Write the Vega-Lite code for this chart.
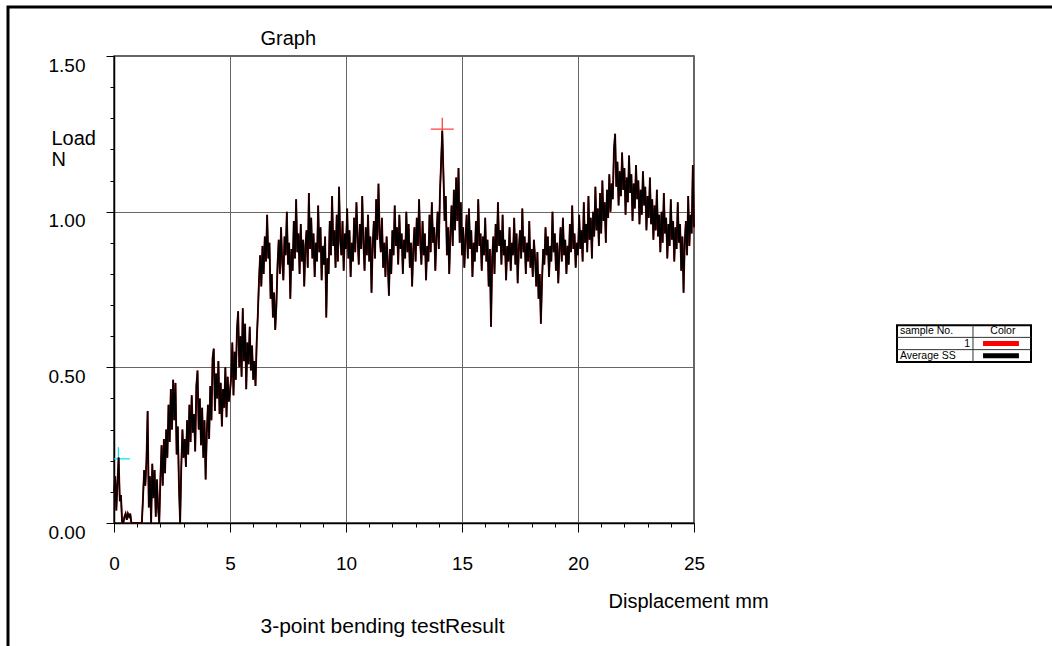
{
"$schema": "https://vega.github.io/schema/vega-lite/v6.json",
"width": 580,
"height": 467,
"autosize": {"type": "none"},
"padding": {"left": 114, "top": 56, "right": 358, "bottom": 123},
"background": "white",
"config": {"font": "Liberation Sans", "view": {"stroke": "#333", "strokeWidth": 1.5}},
"layer": [
{
"data": {"values": [
{"mm":0,"N":0.10},{"mm":0.05,"N":0.15},{"mm":0.1,"N":0.04},{"mm":0.15,"N":0.13},{"mm":0.2,"N":0.21},{"mm":0.25,"N":0.07},{"mm":0.3,"N":0.09},{"mm":0.35,"N":0},{"mm":0.4,"N":0},{"mm":0.45,"N":0.02},{"mm":0.5,"N":0.03},{"mm":0.55,"N":0.01},{"mm":0.6,"N":0.03},{"mm":0.65,"N":0.02},{"mm":0.7,"N":0.03},{"mm":0.75,"N":0},{"mm":0.8,"N":0},{"mm":0.85,"N":0},{"mm":0.9,"N":0},{"mm":0.95,"N":0},{"mm":1,"N":0},{"mm":1.05,"N":0},{"mm":1.1,"N":0},{"mm":1.15,"N":0},{"mm":1.2,"N":0},
{"mm":1.25,"N":0.08},{"mm":1.3,"N":0.17},{"mm":1.35,"N":0.12},{"mm":1.4,"N":0.20},{"mm":1.45,"N":0.36},{"mm":1.5,"N":0.05},{"mm":1.55,"N":0.15},{"mm":1.6,"N":0},{"mm":1.65,"N":0.19},{"mm":1.7,"N":0.08},{"mm":1.75,"N":0.17},{"mm":1.8,"N":0.02},{"mm":1.85,"N":0.14},{"mm":1.9,"N":0.05},{"mm":1.95,"N":0},{"mm":2,"N":0.14},{"mm":2.05,"N":0.25},{"mm":2.1,"N":0.12},{"mm":2.15,"N":0.27},{"mm":2.2,"N":0.16},{"mm":2.25,"N":0.30},{"mm":2.3,"N":0.21},{"mm":2.35,"N":0.38},{"mm":2.4,"N":0.26},{"mm":2.45,"N":0.43},{"mm":2.5,"N":0.30},{"mm":2.55,"N":0.46},{"mm":2.6,"N":0.33},{"mm":2.65,"N":0.45},{"mm":2.7,"N":0.22},{"mm":2.75,"N":0.31},{"mm":2.8,"N":0.12},{"mm":2.85,"N":0},{"mm":2.9,"N":0.18},{"mm":2.95,"N":0.30},{"mm":3,"N":0.21},
{"mm":3.05,"N":0.27},{"mm":3.1,"N":0.18},{"mm":3.15,"N":0.33},{"mm":3.2,"N":0.22},{"mm":3.25,"N":0.38},{"mm":3.3,"N":0.26},{"mm":3.35,"N":0.41},{"mm":3.4,"N":0.29},{"mm":3.45,"N":0.35},{"mm":3.5,"N":0.23},{"mm":3.55,"N":0.44},{"mm":3.6,"N":0.49},{"mm":3.65,"N":0.30},{"mm":3.7,"N":0.40},{"mm":3.75,"N":0.25},{"mm":3.8,"N":0.37},{"mm":3.85,"N":0.21},{"mm":3.9,"N":0.33},{"mm":3.95,"N":0.14},{"mm":4,"N":0.29},{"mm":4.05,"N":0.38},{"mm":4.1,"N":0.27},{"mm":4.15,"N":0.44},{"mm":4.2,"N":0.33},{"mm":4.25,"N":0.53},{"mm":4.3,"N":0.56},{"mm":4.35,"N":0.36},{"mm":4.4,"N":0.48},{"mm":4.45,"N":0.40},{"mm":4.5,"N":0.52},{"mm":4.55,"N":0.35},{"mm":4.6,"N":0.45},{"mm":4.65,"N":0.31},{"mm":4.7,"N":0.43},{"mm":4.75,"N":0.37},{"mm":4.8,"N":0.50},{"mm":4.85,"N":0.34},{"mm":4.9,"N":0.47},{"mm":4.95,"N":0.39},{"mm":5,"N":0.42},
{"mm":5.05,"N":0.47},{"mm":5.1,"N":0.58},{"mm":5.15,"N":0.41},{"mm":5.2,"N":0.55},{"mm":5.25,"N":0.46},{"mm":5.3,"N":0.62},{"mm":5.35,"N":0.68},{"mm":5.4,"N":0.50},{"mm":5.45,"N":0.60},{"mm":5.5,"N":0.47},{"mm":5.55,"N":0.69},{"mm":5.6,"N":0.52},{"mm":5.65,"N":0.64},{"mm":5.7,"N":0.43},{"mm":5.75,"N":0.58},{"mm":5.8,"N":0.51},{"mm":5.85,"N":0.63},{"mm":5.9,"N":0.49},{"mm":5.95,"N":0.57},{"mm":6,"N":0.46},{"mm":6.05,"N":0.52},{"mm":6.1,"N":0.44},{"mm":6.15,"N":0.58},{"mm":6.2,"N":0.67},{"mm":6.25,"N":0.78},{"mm":6.3,"N":0.86},{"mm":6.35,"N":0.76},{"mm":6.4,"N":0.89},{"mm":6.45,"N":0.80},{"mm":6.5,"N":0.92},{"mm":6.55,"N":0.84},{"mm":6.6,"N":0.99},{"mm":6.65,"N":0.85},{"mm":6.7,"N":0.90},{"mm":6.75,"N":0.72},{"mm":6.8,"N":0.80},{"mm":6.85,"N":0.66},{"mm":6.9,"N":0.74},{"mm":6.95,"N":0.62},{"mm":7,"N":0.70},{"mm":7.05,"N":0.83},
{"mm":7.1,"N":0.91},{"mm":7.15,"N":0.80},{"mm":7.2,"N":0.95},{"mm":7.25,"N":0.84},{"mm":7.3,"N":0.78},{"mm":7.35,"N":0.92},{"mm":7.4,"N":0.86},{"mm":7.45,"N":1.00},{"mm":7.5,"N":0.83},{"mm":7.55,"N":0.90},{"mm":7.6,"N":0.72},{"mm":7.65,"N":0.88},{"mm":7.7,"N":0.81},{"mm":7.75,"N":0.97},{"mm":7.8,"N":0.85},{"mm":7.85,"N":1.04},{"mm":7.9,"N":0.87},{"mm":7.95,"N":0.93},{"mm":8,"N":0.80},{"mm":8.05,"N":0.96},{"mm":8.1,"N":0.84},{"mm":8.15,"N":0.91},{"mm":8.2,"N":0.76},{"mm":8.25,"N":0.89},{"mm":8.3,"N":0.94},{"mm":8.35,"N":0.82},{"mm":8.4,"N":1.06},{"mm":8.45,"N":0.88},{"mm":8.5,"N":0.98},{"mm":8.55,"N":0.85},{"mm":8.6,"N":0.93},{"mm":8.65,"N":0.79},{"mm":8.7,"N":0.90},{"mm":8.75,"N":0.84},{"mm":8.8,"N":1.02},{"mm":8.85,"N":0.87},{"mm":8.9,"N":0.95},{"mm":8.95,"N":0.78},{"mm":9,"N":0.89},{"mm":9.05,"N":0.83},{"mm":9.1,"N":0.92},{"mm":9.15,"N":0.66},{"mm":9.2,"N":0.85},{"mm":9.25,"N":0.80},{"mm":9.3,"N":0.97},{"mm":9.35,"N":0.86},{"mm":9.4,"N":1.05},{"mm":9.45,"N":0.89},{"mm":9.5,"N":0.94},{"mm":9.55,"N":0.82},{"mm":9.6,"N":0.99},{"mm":9.65,"N":0.84},{"mm":9.7,"N":1.08},{"mm":9.75,"N":0.91},{"mm":9.8,"N":0.86},{"mm":9.85,"N":0.97},{"mm":9.9,"N":0.81},{"mm":9.95,"N":0.93},
{"mm":10,"N":0.88},{"mm":10.05,"N":1.01},{"mm":10.1,"N":0.85},{"mm":10.15,"N":0.94},{"mm":10.2,"N":0.79},{"mm":10.25,"N":0.90},{"mm":10.3,"N":0.84},{"mm":10.35,"N":0.98},{"mm":10.4,"N":0.87},{"mm":10.45,"N":1.03},{"mm":10.5,"N":0.92},{"mm":10.55,"N":0.83},{"mm":10.6,"N":0.96},{"mm":10.65,"N":0.88},{"mm":10.7,"N":1.05},{"mm":10.75,"N":0.90},{"mm":10.8,"N":0.81},{"mm":10.85,"N":0.95},{"mm":10.9,"N":0.86},{"mm":10.95,"N":0.99},{"mm":11,"N":0.84},{"mm":11.05,"N":0.92},{"mm":11.1,"N":0.74},{"mm":11.15,"N":0.89},{"mm":11.2,"N":0.97},{"mm":11.25,"N":0.85},{"mm":11.3,"N":1.04},{"mm":11.35,"N":0.91},{"mm":11.4,"N":1.09},{"mm":11.45,"N":0.93},{"mm":11.5,"N":0.87},{"mm":11.55,"N":0.98},{"mm":11.6,"N":0.82},{"mm":11.65,"N":0.90},{"mm":11.7,"N":0.79},{"mm":11.75,"N":0.92},{"mm":11.8,"N":0.84},{"mm":11.85,"N":0.73},{"mm":11.9,"N":0.88},{"mm":11.95,"N":0.80},
{"mm":12,"N":0.94},{"mm":12.05,"N":0.86},{"mm":12.1,"N":1.02},{"mm":12.15,"N":0.89},{"mm":12.2,"N":0.95},{"mm":12.25,"N":0.83},{"mm":12.3,"N":0.99},{"mm":12.35,"N":0.88},{"mm":12.4,"N":0.93},{"mm":12.45,"N":0.80},{"mm":12.5,"N":0.91},{"mm":12.55,"N":0.85},{"mm":12.6,"N":1.00},{"mm":12.65,"N":0.87},{"mm":12.7,"N":0.96},{"mm":12.75,"N":0.82},{"mm":12.8,"N":0.90},{"mm":12.85,"N":0.76},{"mm":12.9,"N":0.88},{"mm":12.95,"N":0.95},{"mm":13,"N":0.84},{"mm":13.05,"N":0.98},{"mm":13.1,"N":0.89},{"mm":13.15,"N":1.04},{"mm":13.2,"N":0.90},{"mm":13.25,"N":0.83},{"mm":13.3,"N":0.97},{"mm":13.35,"N":0.86},{"mm":13.4,"N":0.93},{"mm":13.45,"N":0.78},{"mm":13.5,"N":0.89},{"mm":13.55,"N":0.84},{"mm":13.6,"N":0.99},{"mm":13.65,"N":0.87},{"mm":13.7,"N":1.03},{"mm":13.75,"N":0.90},{"mm":13.8,"N":0.95},{"mm":13.85,"N":0.81},{"mm":13.9,"N":0.92},{"mm":13.95,"N":1.00},
{"mm":14,"N":0.88},{"mm":14.05,"N":1.06},{"mm":14.1,"N":1.16},{"mm":14.15,"N":1.26},{"mm":14.2,"N":1.12},{"mm":14.25,"N":0.97},{"mm":14.3,"N":1.05},{"mm":14.35,"N":0.86},{"mm":14.4,"N":0.95},{"mm":14.45,"N":0.80},{"mm":14.5,"N":0.93},{"mm":14.55,"N":1.02},{"mm":14.6,"N":0.89},{"mm":14.65,"N":1.07},{"mm":14.7,"N":0.94},{"mm":14.75,"N":1.11},{"mm":14.8,"N":0.97},{"mm":14.85,"N":1.14},{"mm":14.9,"N":0.90},{"mm":14.95,"N":1.03},
{"mm":15,"N":0.86},{"mm":15.05,"N":0.95},{"mm":15.1,"N":0.82},{"mm":15.15,"N":0.91},{"mm":15.2,"N":0.99},{"mm":15.25,"N":0.85},{"mm":15.3,"N":1.01},{"mm":15.35,"N":0.88},{"mm":15.4,"N":0.94},{"mm":15.45,"N":0.79},{"mm":15.5,"N":0.90},{"mm":15.55,"N":0.84},{"mm":15.6,"N":0.97},{"mm":15.65,"N":0.87},{"mm":15.7,"N":1.04},{"mm":15.75,"N":0.89},{"mm":15.8,"N":0.93},{"mm":15.85,"N":0.81},{"mm":15.9,"N":0.92},{"mm":15.95,"N":0.86},
{"mm":16,"N":0.98},{"mm":16.05,"N":0.84},{"mm":16.1,"N":0.91},{"mm":16.15,"N":0.76},{"mm":16.2,"N":0.88},{"mm":16.25,"N":0.63},{"mm":16.3,"N":0.85},{"mm":16.35,"N":0.92},{"mm":16.4,"N":0.80},{"mm":16.45,"N":0.96},{"mm":16.5,"N":0.87},{"mm":16.55,"N":1.03},{"mm":16.6,"N":0.89},{"mm":16.65,"N":0.94},{"mm":16.7,"N":0.83},{"mm":16.75,"N":0.99},{"mm":16.8,"N":0.86},{"mm":16.85,"N":0.91},{"mm":16.9,"N":0.78},{"mm":16.95,"N":0.89},
{"mm":17,"N":0.84},{"mm":17.05,"N":0.95},{"mm":17.1,"N":0.81},{"mm":17.15,"N":0.90},{"mm":17.2,"N":0.86},{"mm":17.25,"N":0.98},{"mm":17.3,"N":0.83},{"mm":17.35,"N":0.93},{"mm":17.4,"N":0.77},{"mm":17.45,"N":0.88},{"mm":17.5,"N":0.94},{"mm":17.55,"N":0.85},{"mm":17.6,"N":1.01},{"mm":17.65,"N":0.87},{"mm":17.7,"N":0.92},{"mm":17.75,"N":0.80},{"mm":17.8,"N":0.90},{"mm":17.85,"N":0.84},{"mm":17.9,"N":0.97},{"mm":17.95,"N":0.82},
{"mm":18,"N":0.88},{"mm":18.05,"N":0.79},{"mm":18.1,"N":0.91},{"mm":18.15,"N":0.85},{"mm":18.2,"N":0.76},{"mm":18.25,"N":0.87},{"mm":18.3,"N":0.72},{"mm":18.35,"N":0.80},{"mm":18.4,"N":0.64},{"mm":18.45,"N":0.78},{"mm":18.5,"N":0.88},{"mm":18.55,"N":0.83},{"mm":18.6,"N":0.95},{"mm":18.65,"N":0.86},{"mm":18.7,"N":0.92},{"mm":18.75,"N":0.79},{"mm":18.8,"N":0.89},{"mm":18.85,"N":0.84},{"mm":18.9,"N":1.00},{"mm":18.95,"N":0.87},
{"mm":19,"N":0.93},{"mm":19.05,"N":0.81},{"mm":19.1,"N":0.90},{"mm":19.15,"N":0.77},{"mm":19.2,"N":0.88},{"mm":19.25,"N":0.95},{"mm":19.3,"N":0.84},{"mm":19.35,"N":0.98},{"mm":19.4,"N":0.86},{"mm":19.45,"N":0.91},{"mm":19.5,"N":0.80},{"mm":19.55,"N":0.89},{"mm":19.6,"N":0.83},{"mm":19.65,"N":0.96},{"mm":19.7,"N":0.87},{"mm":19.75,"N":1.02},{"mm":19.8,"N":0.88},{"mm":19.85,"N":0.93},{"mm":19.9,"N":0.82},{"mm":19.95,"N":0.90},
{"mm":20,"N":0.86},{"mm":20.05,"N":0.99},{"mm":20.1,"N":0.88},{"mm":20.15,"N":0.94},{"mm":20.2,"N":0.84},{"mm":20.25,"N":1.03},{"mm":20.3,"N":0.90},{"mm":20.35,"N":0.96},{"mm":20.4,"N":0.87},{"mm":20.45,"N":1.05},{"mm":20.5,"N":0.91},{"mm":20.55,"N":0.98},{"mm":20.6,"N":0.85},{"mm":20.65,"N":1.00},{"mm":20.7,"N":0.92},{"mm":20.75,"N":1.08},{"mm":20.8,"N":0.94},{"mm":20.85,"N":1.01},{"mm":20.9,"N":0.89},{"mm":20.95,"N":1.06},
{"mm":21,"N":0.93},{"mm":21.05,"N":1.10},{"mm":21.1,"N":0.97},{"mm":21.15,"N":1.03},{"mm":21.2,"N":0.90},{"mm":21.25,"N":1.07},{"mm":21.3,"N":0.98},{"mm":21.35,"N":1.12},{"mm":21.4,"N":1.00},{"mm":21.45,"N":1.09},{"mm":21.5,"N":1.04},{"mm":21.55,"N":1.20},{"mm":21.6,"N":1.25},{"mm":21.65,"N":1.08},{"mm":21.7,"N":1.16},{"mm":21.75,"N":1.02},{"mm":21.8,"N":1.13},{"mm":21.85,"N":1.05},{"mm":21.9,"N":1.19},{"mm":21.95,"N":1.07},
{"mm":22,"N":1.14},{"mm":22.05,"N":0.99},{"mm":22.1,"N":1.11},{"mm":22.15,"N":1.03},{"mm":22.2,"N":1.18},{"mm":22.25,"N":1.06},{"mm":22.3,"N":1.12},{"mm":22.35,"N":0.97},{"mm":22.4,"N":1.09},{"mm":22.45,"N":1.01},{"mm":22.5,"N":1.15},{"mm":22.55,"N":1.04},{"mm":22.6,"N":1.10},{"mm":22.65,"N":0.96},{"mm":22.7,"N":1.07},{"mm":22.75,"N":0.99},{"mm":22.8,"N":1.13},{"mm":22.85,"N":1.02},{"mm":22.9,"N":1.08},{"mm":22.95,"N":0.94},
{"mm":23,"N":1.05},{"mm":23.05,"N":0.98},{"mm":23.1,"N":1.11},{"mm":23.15,"N":0.96},{"mm":23.2,"N":1.04},{"mm":23.25,"N":0.91},{"mm":23.3,"N":1.02},{"mm":23.35,"N":0.94},{"mm":23.4,"N":1.07},{"mm":23.45,"N":0.92},{"mm":23.5,"N":0.99},{"mm":23.55,"N":0.87},{"mm":23.6,"N":1.00},{"mm":23.65,"N":0.90},{"mm":23.7,"N":1.06},{"mm":23.75,"N":0.93},{"mm":23.8,"N":0.98},{"mm":23.85,"N":0.85},{"mm":23.9,"N":0.96},{"mm":23.95,"N":0.89},
{"mm":24,"N":1.04},{"mm":24.05,"N":0.91},{"mm":24.1,"N":0.97},{"mm":24.15,"N":0.84},{"mm":24.2,"N":0.95},{"mm":24.25,"N":0.88},{"mm":24.3,"N":1.03},{"mm":24.35,"N":0.90},{"mm":24.4,"N":0.96},{"mm":24.45,"N":0.81},{"mm":24.5,"N":0.92},{"mm":24.55,"N":0.74},{"mm":24.6,"N":0.90},{"mm":24.65,"N":0.97},{"mm":24.7,"N":0.86},{"mm":24.75,"N":1.05},{"mm":24.8,"N":0.89},{"mm":24.85,"N":0.99},{"mm":24.9,"N":0.93},{"mm":24.95,"N":1.15},{"mm":25,"N":0.95}
]},
"layer": [
{
"data": {"values": [{"mm": 14.15, "N": 1.265, "marker": "max"}, {"mm": 0.19, "N": 0.206, "marker": "start"}]},
"mark": {"type": "point", "shape": "M-1,0L1,0M0,-1L0,1", "size": 529, "filled": false, "strokeWidth": 1.3, "opacity": 1, "clip": true},
"encoding": {
"x": {"field": "mm", "type": "quantitative", "scale": {"domain": [0, 25], "nice": false, "zero": false},
"axis": {"values": [0,1,2,3,4,5,6,7,8,9,10,11,12,13,14,15,16,17,18,19,20,21,22,23,24,25], "tickCount": 60, "format": "d",
"labelExpr": "datum.value % 5 === 0 ? datum.label : ''", "labelFontSize": 19, "labelColor": "black", "labelPadding": 22, "labelFlush": false, "labelOverlap": false, "labelFont": "Liberation Sans",
"tickSize": {"condition": {"test": "datum.value % 5 === 0", "value": 9}, "value": 4}, "tickColor": "black", "tickWidth": 1,
"domainColor": "black", "domainWidth": 1.5,
"grid": true, "gridColor": "#666", "gridWidth": 1, "gridOpacity": {"condition": {"test": "datum.value % 5 === 0", "value": 1}, "value": 0},
"title": "Displacement mm", "titleX": 494, "titleY": 84, "titleAlign": "left", "titleBaseline": "alphabetic", "titleFontSize": 20, "titleFontWeight": "normal", "titleColor": "black", "titleFont": "Liberation Sans"}},
"y": {"field": "N", "type": "quantitative", "scale": {"domain": [0, 1.5], "nice": false, "zero": false},
"axis": {"values": [0,0.1,0.2,0.3,0.4,0.5,0.6,0.7,0.8,0.9,1,1.1,1.2,1.3,1.4,1.5], "tickCount": 40,
"labelExpr": "abs(datum.value*2 - round(datum.value*2)) < 0.001 ? format(datum.value, '.2f') : ''", "labelFontSize": 19, "labelColor": "black", "labelPadding": 21, "labelBaseline": "top", "labelFlush": false, "labelOverlap": false, "labelFont": "Liberation Sans",
"tickSize": {"condition": {"test": "abs(datum.value*2 - round(datum.value*2)) < 0.001", "value": 8}, "value": 4}, "tickColor": "black", "tickWidth": 1,
"domainColor": "black", "domainWidth": 1.5,
"grid": true, "gridColor": "#666", "gridWidth": 1, "gridOpacity": {"condition": {"test": "abs(datum.value*2 - round(datum.value*2)) < 0.001", "value": 1}, "value": 0},
"title": ["Load", "N"], "titleAngle": 0, "titleX": -63, "titleY": 88, "titleAlign": "left", "titleBaseline": "alphabetic", "titleLineHeight": 21, "titleFontSize": 20, "titleFontWeight": "normal", "titleColor": "black", "titleFont": "Liberation Sans"}},
"color": {"field": "marker", "type": "nominal", "scale": {"domain": ["max", "start"], "range": ["#ff4040", "#00e8f8"]}, "legend": null}
}
},
{"mark": {"type": "line", "color": "#a00000", "strokeWidth": 1.9}, "encoding": {"x": {"field": "mm", "type": "quantitative"}, "y": {"field": "N", "type": "quantitative"}}},
{"mark": {"type": "line", "color": "black", "strokeWidth": 1.45}, "encoding": {"x": {"field": "mm", "type": "quantitative"}, "y": {"field": "N", "type": "quantitative"}}}
]
},
{
"data": {"values": [{"row": 0, "label": "sample No.", "head": "Color"}, {"row": 1, "label": "1", "series": "1"}, {"row": 2, "label": "Average SS", "series": "Average SS"}]},
"layer": [
{
"transform": [{"filter": "datum.row === 0"}],
"mark": {"type": "rect", "fill": "white", "stroke": "black", "strokeWidth": 2},
"encoding": {
"x": {"datum": 0, "type": "quantitative", "scale": {"domain": [0, 10], "range": [783, 917]},
"axis": {"orient": "top", "domain": false, "ticks": false, "labels": false, "grid": false,
"title": "Graph", "titleX": 146, "titleY": -12, "titleAlign": "left", "titleAngle": 0, "titleBaseline": "alphabetic", "titleFontSize": 20, "titleFontWeight": "normal", "titleColor": "black", "titleFont": "Liberation Sans"}},
"x2": {"datum": 10},
"y": {"datum": -0.5, "type": "quantitative", "scale": {"domain": [-0.5, 2.5], "range": [263, 312]},
"axis": {"orient": "right", "domain": false, "ticks": false, "labels": false, "grid": false,
"title": "3-point bending testResult", "titleAngle": 0, "titleX": -434, "titleY": 576, "titleAlign": "left", "titleBaseline": "alphabetic", "titleFontSize": 21, "titleFontWeight": "normal", "titleColor": "black", "titleFont": "Liberation Sans"}},
"y2": {"datum": 2.5}
}
},
{"transform": [{"filter": "datum.row === 0"}], "mark": {"type": "rule", "color": "#333", "strokeWidth": 1}, "encoding": {"x": {"datum": 0, "type": "quantitative"}, "x2": {"datum": 10}, "y": {"datum": 0.5, "type": "quantitative"}}},
{"transform": [{"filter": "datum.row === 0"}], "mark": {"type": "rule", "color": "#333", "strokeWidth": 1}, "encoding": {"x": {"datum": 0, "type": "quantitative"}, "x2": {"datum": 10}, "y": {"datum": 1.5, "type": "quantitative"}}},
{"transform": [{"filter": "datum.row === 0"}], "mark": {"type": "rule", "color": "#333", "strokeWidth": 1}, "encoding": {"x": {"datum": 5.67, "type": "quantitative"}, "y": {"datum": -0.5, "type": "quantitative"}, "y2": {"datum": 2.5}}},
{"transform": [{"filter": "datum.row !== 1"}], "mark": {"type": "text", "align": "left", "baseline": "middle", "fontSize": 10.5, "color": "black", "font": "Liberation Sans"}, "encoding": {"x": {"datum": 0.22, "type": "quantitative"}, "y": {"field": "row", "type": "quantitative"}, "text": {"field": "label"}}},
{"transform": [{"filter": "datum.row === 1"}], "mark": {"type": "text", "align": "right", "baseline": "middle", "fontSize": 10.5, "color": "black", "font": "Liberation Sans"}, "encoding": {"x": {"datum": 5.45, "type": "quantitative"}, "y": {"field": "row", "type": "quantitative"}, "text": {"field": "label"}}},
{"transform": [{"filter": "datum.row === 0"}], "mark": {"type": "text", "align": "center", "baseline": "middle", "fontSize": 10.5, "color": "black", "font": "Liberation Sans"}, "encoding": {"x": {"datum": 7.9, "type": "quantitative"}, "y": {"field": "row", "type": "quantitative"}, "text": {"field": "head"}}},
{"transform": [{"filter": "datum.row > 0"}], "mark": {"type": "rule", "strokeWidth": 5}, "encoding": {"x": {"datum": 6.42, "type": "quantitative"}, "x2": {"datum": 9.1}, "y": {"field": "row", "type": "quantitative"}, "color": {"field": "series", "type": "nominal", "scale": {"domain": ["1", "Average SS"], "range": ["#ff0000", "#000000"]}, "legend": null}}}
]
},
{
"data": {"values": [{"frame": "page"}]},
"mark": {"type": "rect", "filled": false, "stroke": "black", "strokeWidth": 3},
"encoding": {
"x": {"datum": 0, "type": "quantitative", "scale": {"domain": [0, 1], "range": [-106, 941]}, "axis": null},
"x2": {"datum": 1},
"y": {"datum": 0, "type": "quantitative", "scale": {"domain": [0, 1], "range": [-49, 593]}, "axis": null},
"y2": {"datum": 1}
}
}
],
"resolve": {"scale": {"x": "independent", "y": "independent", "color": "independent"}}
}
